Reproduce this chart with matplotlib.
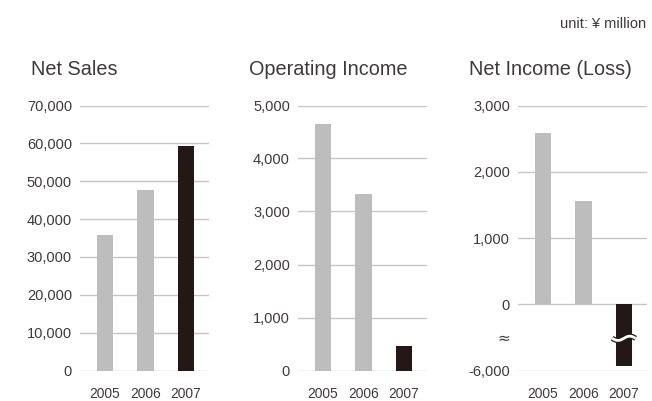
import numpy as np
import matplotlib
matplotlib.use("Agg")
import matplotlib.pyplot as plt
from matplotlib import transforms

plt.rcParams['font.family'] = ['Liberation Sans', 'DejaVu Sans']

years = ["2005", "2006", "2007"]
net_sales = [35700, 47700, 59400]
operating_income = [4650, 3330, 455]
net_income = [2580, 1555, -5930]

sales_ticks = [0, 10000, 20000, 30000, 40000, 50000, 60000, 70000]
op_ticks = [0, 1000, 2000, 3000, 4000, 5000]
ni_ticks = [-6000, 0, 1000, 2000, 3000]

GRAY = "#bcbdbc"
DARK = "#231815"
TEXT = "#3e3a39"
GRID = "#c6c6c6"

W, H = 652, 401
fig = plt.figure(figsize=(W / 100, H / 100), dpi=100)

ax_bottom = 1 - 370.5 / H
ax_height = (370.5 - 105.5) / H
ax_width = 128.5 / W
lefts = [80 / W, 298 / W, 518 / W]


# Broken-axis mapping: values between -5600 and -400 are squeezed together
def fwd(y):
    y = np.asarray(y, dtype=float)
    return np.where(y >= -400, y,
                    np.where(y <= -5600, y + 5000, -400 + (y + 400) * (200 / 5200)))


def inv(t):
    t = np.asarray(t, dtype=float)
    return np.where(t >= -400, t,
                    np.where(t <= -600, t - 5000, -400 + (t + 400) * (5200 / 200)))


def fmt(v):
    return f"{v:,}"


panels = [
    ("Net Sales", net_sales, sales_ticks, (0, 70000)),
    ("Operating Income", operating_income, op_ticks, (0, 5000)),
    ("Net Income (Loss)", net_income, ni_ticks, (-6000, 3000)),
]

x = np.arange(len(years))
colors = [GRAY, GRAY, DARK]

for i, (title, vals, ticks, lim) in enumerate(panels):
    ax = fig.add_axes([lefts[i], ax_bottom, ax_width, ax_height])
    if i == 2:
        ax.set_yscale('function', functions=(fwd, inv))
    ax.bar(x, vals, width=0.4, color=colors, zorder=3)
    ax.set_xlim(-0.62, 2.56)
    ax.set_ylim(*lim)
    ax.set_yticks(ticks)
    ax.set_yticklabels([fmt(t) for t in ticks])
    ax.yaxis.set_minor_locator(matplotlib.ticker.NullLocator())
    ax.set_xticks(x)
    ax.set_xticklabels(years)
    ax.grid(axis='y', color=GRID, linewidth=1.0, zorder=0)
    ax.set_axisbelow(True)
    for s in ax.spines.values():
        s.set_visible(False)
    ax.tick_params(axis='y', length=0, pad=5.8, labelsize=10.5, labelcolor=TEXT)
    ax.tick_params(axis='x', length=0, pad=12, labelsize=9.9, labelcolor=TEXT)
    ax.patch.set_visible(False)

    fig.text((lefts[i] * W - 49) / W, 1 - 75 / H, title, fontsize=14.3,
             color=TEXT, ha='left', va='baseline')

    if i == 2:
        # break marks on the axis and across the negative bar
        t = transforms.blended_transform_factory(ax.transData, ax.transAxes)
        yb = (370.5 - 338.3) / 265.0
        xs = np.linspace(-0.29, 0.29, 60)
        ys = yb + 0.008 * np.sin((xs + 0.29) / 0.58 * 2 * np.pi + np.pi)
        xs = xs + x[2]
        ax.plot(xs, ys, transform=t, color=DARK, lw=3.8, zorder=4,
                solid_capstyle='butt', clip_on=False)
        ax.plot(xs, ys, transform=t, color="white", lw=2.0, zorder=5,
                solid_capstyle='butt', clip_on=False)
        ax.text(-8 / 128.5, yb, "\u2248", transform=ax.transAxes, ha='right',
                va='center', fontsize=11, color=TEXT,
                family=['DejaVu Sans'])

fig.text(646.5 / W, 1 - 24 / H, "unit: \u00a5 million", fontsize=10.5,
         color=TEXT, ha='right', va='center')

fig.savefig("out.png", dpi=100)
